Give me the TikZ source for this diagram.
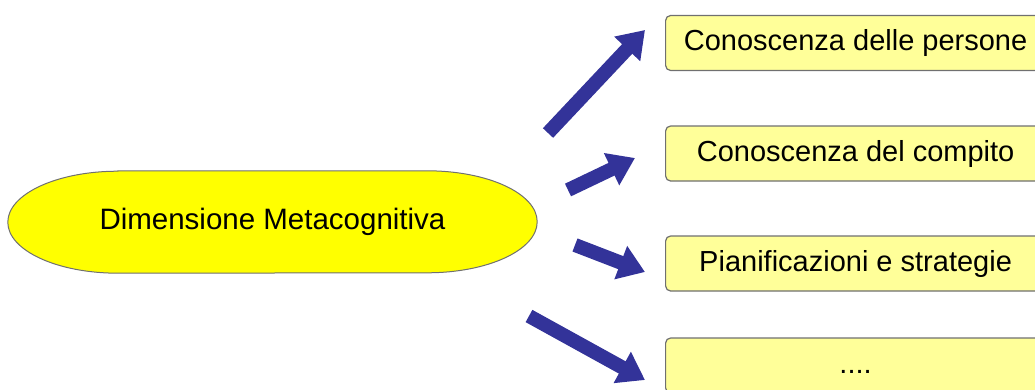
\documentclass[tikz,border=0pt]{standalone}
\usepackage{fontspec}
\setmainfont{Liberation Sans}
\usetikzlibrary{arrows.meta,backgrounds}
\definecolor{giallo}{HTML}{FFFF00}
\definecolor{giallino}{HTML}{FFFF99}
\definecolor{blu}{HTML}{333399}
\definecolor{bordo}{HTML}{707070}

\begin{document}
\begin{tikzpicture}[x=1pt,y=1pt,
	casella/.style={draw=bordo,line width=1.2pt,fill=giallino,rounded corners=5pt,
		minimum width=380pt,minimum height=55pt,anchor=west,
		text height=21pt,text depth=6pt,font=\fontsize{29}{34}\selectfont},
	freccia/.style={blu,line width=14pt,-{Triangle[length=26pt,width=34pt]}}]
			\useasboundingbox (0,0) rectangle (1035,389);
			% Ellisse
			\node[minimum width=529pt,minimum height=102pt,inner sep=0pt,
				font=\fontsize{29.5}{34}\selectfont] (dim) at (272.5,167) {Dimensione Metacognitiva};
			\begin{scope}[on background layer]
			\draw[draw=bordo,line width=1pt,fill=giallo] ([xshift=110pt]dim.north west) -- ([xshift=-110pt]dim.north east)
				arc[start angle=90,end angle=-90,x radius=110pt,y radius=51pt]
				-- ([xshift=110pt]dim.south west)
				arc[start angle=270,end angle=90,x radius=110pt,y radius=51pt] -- cycle;
			\end{scope}
			% Caselle
			\node[casella] (p1) at (665,346) {Conoscenza delle persone};
			\node[casella] (p2) at (665,235.5) {Conoscenza del compito};
			\node[casella] (p3) at (665,125.5) {Pianificazioni e strategie};
			\node[casella] (p4) at (665,23.5) {....};
			% Frecce
			\coordinate (s1) at (548,256);
			\coordinate (s2) at (568,199);
			\coordinate (s3) at (575,144);
			\coordinate (s4) at (529,73);
			\draw[freccia] (s1) -- ([xshift=-20pt,yshift=13pt]p1.west);
			\draw[freccia] (s2) -- ([xshift=-30pt,yshift=-4.5pt]p2.west);
			\draw[freccia] (s3) -- ([xshift=-20pt,yshift=-8.5pt]p3.west);
			\draw[freccia] (s4) -- ([xshift=-20pt,yshift=-14.5pt]p4.west);
		\end{tikzpicture}
\end{document}
